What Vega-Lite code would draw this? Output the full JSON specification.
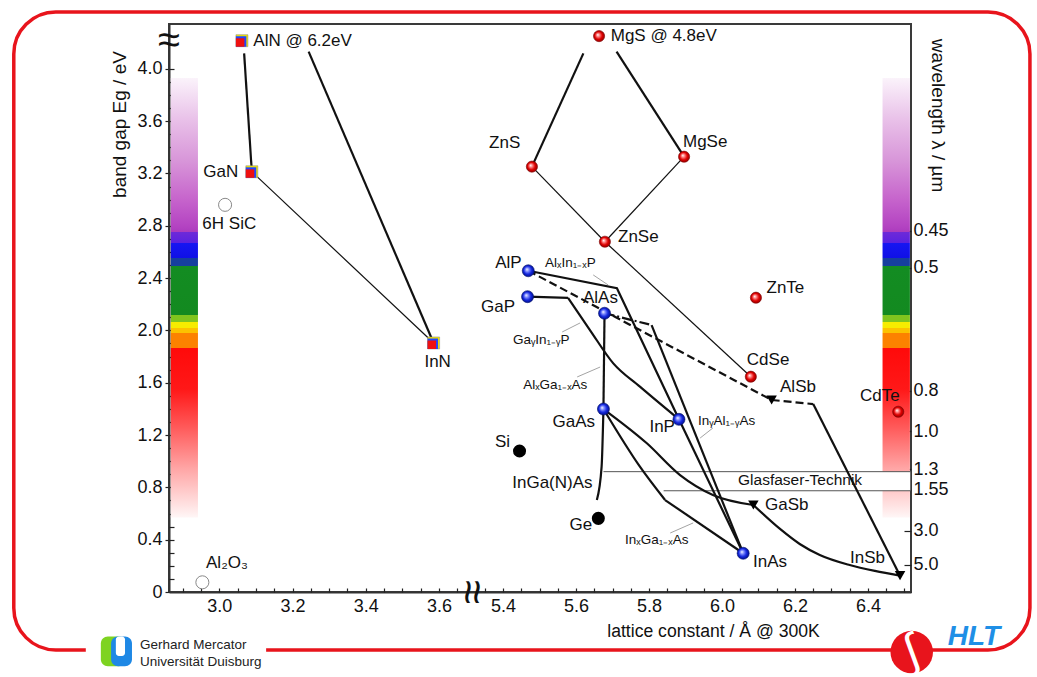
{
"$schema": "https://vega.github.io/schema/vega-lite/v6.json",
"width": 742, "height": 568,
"autosize": {"type": "none"},
"padding": {"left": 169, "top": 24, "right": 126, "bottom": 85},
"background": "white",
"config": {
  "view": {"stroke": "#3a3a3a", "strokeWidth": 2},
  "font": "Liberation Sans",
  "axis": {"grid": false, "labelFont": "Liberation Sans Narrow, Liberation Sans", "labelFontSize": 18, "labelColor": "#111", "titleFont": "Liberation Sans", "titleFontWeight": "normal", "titleColor": "#111", "tickColor": "#222", "domainColor": "#333", "domainWidth": 2, "tickWidth": 1.2, "labelFlush": false, "labelOverlap": false, "labelBound": false},
  "text": {"font": "Liberation Sans", "fontSize": 17, "color": "#111"}
},
"datasets": {
  "red": [{"n":"MgS","x":5.663,"y":4.25},{"n":"ZnS","x":5.479,"y":3.252},{"n":"MgSe","x":5.896,"y":3.328},{"n":"ZnSe","x":5.679,"y":2.678},{"n":"ZnTe","x":6.093,"y":2.25},{"n":"CdSe","x":6.079,"y":1.646},{"n":"CdTe","x":6.483,"y":1.378}],
  "blue": [{"n":"AlP","x":5.469,"y":2.456},{"n":"GaP","x":5.467,"y":2.258},{"n":"AlAs","x":5.678,"y":2.131},{"n":"GaAs","x":5.675,"y":1.399},{"n":"InP","x":5.882,"y":1.32},{"n":"InAs","x":6.058,"y":0.296}],
  "black": [{"n":"Si","x":5.445,"y":1.078},{"n":"Ge","x":5.661,"y":0.563}],
  "open": [{"n":"6H SiC","x":3.016,"y":2.96},{"n":"Al2O3","x":2.954,"y":0.074}],
  "tri": [{"n":"AlSb","x":6.136,"y":1.468},{"n":"GaSb","x":6.086,"y":0.665},{"n":"InSb","x":6.488,"y":0.125}],
  "nit": [{"n":"AlN","x":3.062,"y":4.215},{"n":"GaN","x":3.089,"y":3.213},{"n":"InN","x":3.585,"y":1.904}],
  "lines": [
    {"id":1,"o":1,"s":"thick","x":3.068,"y":4.118},{"id":1,"o":2,"s":"thick","x":3.089,"y":3.213},
    {"id":2,"o":1,"s":"thick","x":3.244,"y":4.131},{"id":2,"o":2,"s":"thick","x":3.585,"y":1.904},
    {"id":3,"o":1,"s":"thin","x":3.089,"y":3.213},{"id":3,"o":2,"s":"thin","x":3.585,"y":1.904},
    {"id":4,"o":1,"s":"thick","x":5.62,"y":4.118},{"id":4,"o":2,"s":"thick","x":5.479,"y":3.252},
    {"id":5,"o":1,"s":"thick","x":5.711,"y":4.131},{"id":5,"o":2,"s":"thick","x":5.896,"y":3.328},
    {"id":6,"o":1,"s":"thin","x":5.479,"y":3.252},{"id":6,"o":2,"s":"thin","x":5.679,"y":2.678},
    {"id":7,"o":1,"s":"thin","x":5.896,"y":3.328},{"id":7,"o":2,"s":"thin","x":5.679,"y":2.678},
    {"id":8,"o":1,"s":"thin","x":5.679,"y":2.678},{"id":8,"o":2,"s":"thin","x":6.079,"y":1.646},
    {"id":9,"o":1,"s":"thick","x":5.469,"y":2.456},{"id":9,"o":2,"s":"thick","x":5.712,"y":2.322},{"id":9,"o":3,"s":"thick","x":5.882,"y":1.32},
    {"id":10,"o":1,"s":"thick","x":5.467,"y":2.258},{"id":10,"o":2,"s":"thick","x":5.578,"y":2.248},
    {"id":30,"o":1,"s":"curve","x":5.578,"y":2.248},{"id":30,"o":2,"s":"curve","x":5.638,"y":2.003},{"id":30,"o":3,"s":"curve","x":5.702,"y":1.748},{"id":30,"o":4,"s":"curve","x":5.775,"y":1.57},{"id":30,"o":5,"s":"curve","x":5.882,"y":1.32},
    {"id":11,"o":1,"s":"thick","x":5.678,"y":2.131},{"id":11,"o":2,"s":"thick","x":5.675,"y":1.399},
    {"id":12,"o":1,"s":"dashdot","x":5.678,"y":2.131},{"id":12,"o":2,"s":"dashdot","x":5.807,"y":2.041},
    {"id":13,"o":1,"s":"thick","x":5.807,"y":2.041},{"id":13,"o":2,"s":"thick","x":6.058,"y":0.296},
    {"id":14,"o":1,"s":"dash","x":5.469,"y":2.456},{"id":14,"o":2,"s":"dash","x":6.136,"y":1.468},
    {"id":15,"o":1,"s":"dash","x":6.136,"y":1.468},{"id":15,"o":2,"s":"dash","x":6.25,"y":1.437},
    {"id":16,"o":1,"s":"thick","x":6.25,"y":1.437},{"id":16,"o":2,"s":"thick","x":6.488,"y":0.125},
    {"id":17,"o":1,"s":"thick","x":5.882,"y":1.32},{"id":17,"o":2,"s":"thick","x":6.058,"y":0.296},
    {"id":18,"o":1,"s":"curve","x":5.675,"y":1.399},{"id":18,"o":2,"s":"curve","x":5.775,"y":0.958},{"id":18,"o":3,"s":"curve","x":5.844,"y":0.703},
    {"id":31,"o":1,"s":"thick","x":5.844,"y":0.703},{"id":31,"o":2,"s":"thick","x":6.058,"y":0.296},
    {"id":19,"o":1,"s":"curve","x":5.675,"y":1.399},{"id":19,"o":2,"s":"curve","x":5.794,"y":1.137},{"id":19,"o":3,"s":"curve","x":5.885,"y":0.894},{"id":19,"o":4,"s":"curve","x":5.975,"y":0.742},{"id":19,"o":5,"s":"curve","x":6.086,"y":0.665},
    {"id":20,"o":1,"s":"curve","x":6.086,"y":0.665},{"id":20,"o":2,"s":"curve","x":6.159,"y":0.482},{"id":20,"o":3,"s":"curve","x":6.213,"y":0.367},{"id":20,"o":4,"s":"curve","x":6.268,"y":0.283},{"id":20,"o":5,"s":"curve","x":6.35,"y":0.206},{"id":20,"o":6,"s":"curve","x":6.419,"y":0.161},{"id":20,"o":7,"s":"curve","x":6.488,"y":0.125},
    {"id":21,"o":1,"s":"curve","x":5.675,"y":1.399},{"id":21,"o":2,"s":"curve","x":5.67,"y":0.958},{"id":21,"o":3,"s":"curve","x":5.657,"y":0.703},
    {"id":22,"o":1,"s":"leader","x":5.647,"y":2.424},{"id":22,"o":2,"s":"leader","x":5.688,"y":2.347},
    {"id":23,"o":1,"s":"leader","x":5.562,"y":1.988},{"id":23,"o":2,"s":"leader","x":5.611,"y":2.057},
    {"id":24,"o":1,"s":"leader","x":5.603,"y":1.644},{"id":24,"o":2,"s":"leader","x":5.666,"y":1.72},
    {"id":25,"o":1,"s":"leader","x":5.94,"y":1.177},{"id":25,"o":2,"s":"leader","x":5.975,"y":1.254},
    {"id":26,"o":1,"s":"leader","x":5.858,"y":0.451},{"id":26,"o":2,"s":"leader","x":5.921,"y":0.528},
    {"id":27,"o":1,"s":"glas","x":5.675,"y":0.92},{"id":27,"o":2,"s":"glas","x":6.518,"y":0.92},
    {"id":28,"o":1,"s":"glas","x":5.84,"y":0.774},{"id":28,"o":2,"s":"glas","x":6.518,"y":0.774}
  ],
  "labL": [
    {"t":"AlN @ 6.2eV","x":3.093,"y":4.215},{"t":"MgS @ 4.8eV","x":5.695,"y":4.251},{"t":"6H SiC","x":2.954,"y":2.813},{"t":"Al₂O₃","x":2.964,"y":0.222},
    {"t":"MgSe","x":5.893,"y":3.443},{"t":"ZnSe","x":5.715,"y":2.716},{"t":"ZnTe","x":6.122,"y":2.322},{"t":"CdSe","x":6.068,"y":1.774},
    {"t":"AlSb","x":6.159,"y":1.57},{"t":"AlAs","x":5.619,"y":2.248},{"t":"InAs","x":6.085,"y":0.232},{"t":"GaSb","x":6.118,"y":0.665},
    {"t":"InSb","x":6.351,"y":0.262},{"t":"CdTe","x":6.378,"y":1.498},{"t":"InGa(N)As","x":5.425,"y":0.831}
  ],
  "labR": [
    {"t":"GaN","x":3.052,"y":3.213},{"t":"ZnS","x":5.447,"y":3.43},{"t":"AlP","x":5.451,"y":2.513},{"t":"GaP","x":5.433,"y":2.179},
    {"t":"GaAs","x":5.652,"y":1.302},{"t":"InP","x":5.871,"y":1.264},{"t":"Si","x":5.419,"y":1.149},{"t":"Ge","x":5.644,"y":0.512}
  ],
  "labC": [{"t":"InN","x":3.596,"y":1.758}],
  "labS": [
    {"t":"AlₓIn₁₋ₓP","x":5.515,"y":2.515},{"t":"GaᵧIn₁₋ᵧP","x":5.427,"y":1.927},{"t":"AlₓGa₁₋ₓAs","x":5.455,"y":1.583},
    {"t":"InᵧAl₁₋ᵧAs","x":5.934,"y":1.31},{"t":"InₓGa₁₋ₓAs","x":5.734,"y":0.398}
  ],
  "glas": [{"t":"Glasfaser-Technik","x":6.044,"y":0.856}],
  "logo": [{"t":"Gerhard Mercator","x":2.784,"y":-0.405},{"t":"Universität Duisburg","x":2.784,"y":-0.533}]
},
"layer": [
  {"layer": [
    {"data": {"values": [{}]},
     "mark": {"type": "rect", "filled": false, "color": "#e8141c", "strokeWidth": 3.5, "cornerRadius": 42},
     "encoding": {
       "x": {"datum": 2.4395, "type": "quantitative",
             "scale": {"domain": [2.863, 3.687, 5.312, 6.518], "range": [0, 302, 302, 742], "nice": false, "zero": false},
             "axis": {"values": [3.0, 3.2, 3.4, 3.6, 5.4, 5.6, 5.8, 6.0, 6.2, 6.4], "format": ".1f", "ticks": false, "labelPadding": 5,
                      "title": "lattice constant / Å @ 300K", "titleFontSize": 17.6, "titleX": 544, "titleY": 44, "titleAlign": "center", "titleBaseline": "alphabetic"}},
       "x2": {"datum": 6.844},
       "y": {"datum": 4.434, "type": "quantitative",
             "scale": {"domain": [0, 4.3425], "nice": false, "zero": false},
             "axis": {"values": [0, 0.4, 0.8, 1.2, 1.6, 2.0, 2.4, 2.8, 3.2, 3.6, 4.0], "labelExpr": "datum.value == 0 ? '0' : format(datum.value, '.1f')", "tickSize": 4, "labelPadding": 3,
                      "title": "band gap  Eg / eV", "titleFontSize": 19, "titleAngle": -90, "titleX": -50, "titleY": 100, "titleAlign": "center", "titleBaseline": "middle"}},
       "y2": {"datum": -0.443}
     }},
    {"data": {"values": [{}]}, "mark": {"type": "rect", "color": "white"},
     "encoding": {"x": {"datum": 2.636, "type": "quantitative"}, "x2": {"datum": 3.128}, "y": {"datum": -0.275, "type": "quantitative"}, "y2": {"datum": -0.635}}},
    {"data": {"values": [{}]}, "mark": {"type": "rect", "color": "#7ed321", "cornerRadius": 7},
     "encoding": {"x": {"datum": 2.677, "type": "quantitative"}, "x2": {"datum": 2.745}, "y": {"datum": -0.34, "type": "quantitative"}, "y2": {"datum": -0.568}}},
    {"data": {"values": [{}]}, "mark": {"type": "rect", "color": "#1e88e5", "cornerRadius": 7},
     "encoding": {"x": {"datum": 2.705, "type": "quantitative"}, "x2": {"datum": 2.762}, "y": {"datum": -0.34, "type": "quantitative"}, "y2": {"datum": -0.568}}},
    {"data": {"values": [{}]}, "mark": {"type": "rect", "color": "white", "cornerRadius": 3},
     "encoding": {"x": {"datum": 2.718, "type": "quantitative"}, "x2": {"datum": 2.743}, "y": {"datum": -0.34, "type": "quantitative"}, "y2": {"datum": -0.49}}},
    {"data": {"name": "logo"}, "mark": {"type": "text", "align": "left", "baseline": "middle", "fontSize": 13.5, "color": "#222"},
     "encoding": {"x": {"field": "x", "type": "quantitative"}, "y": {"field": "y", "type": "quantitative"}, "text": {"field": "t"}}},
    {"data": {"values": [{}]}, "mark": {"type": "circle", "color": "#e8141c", "size": 1810, "opacity": 1},
     "encoding": {"x": {"datum": 6.52, "type": "quantitative"}, "y": {"datum": -0.459, "type": "quantitative"}}},
    {"data": {"values": [{}]}, "mark": {"type": "text", "text": "∫", "align": "center", "baseline": "middle", "fontSize": 46, "color": "white", "angle": -20},
     "encoding": {"x": {"datum": 6.52, "type": "quantitative"}, "y": {"datum": -0.459, "type": "quantitative"}}},
    {"data": {"values": [{}]}, "mark": {"type": "text", "text": "HLT", "align": "left", "baseline": "middle", "fontSize": 28, "fontStyle": "italic", "fontWeight": "bold", "color": "#1f8fe6"},
     "encoding": {"x": {"datum": 6.619, "type": "quantitative"}, "y": {"datum": -0.344, "type": "quantitative"}}},
    {"data": {"values": [{}]},
     "mark": {"type": "rect", "fill": {"gradient": "linear", "x1": 0, "y1": 0, "x2": 0, "y2": 1, "stops": [
        {"offset":0,"color":"#fbf3fb"},{"offset":0.098,"color":"#e8bfe8"},{"offset":0.1875,"color":"#d896d9"},{"offset":0.2768,"color":"#c664cc"},{"offset":0.3363,"color":"#b444c2"},{"offset":0.3497,"color":"#ac3cbe"},
        {"offset":0.3497,"color":"#6e2ad8"},{"offset":0.3756,"color":"#5a22e0"},{"offset":0.3756,"color":"#1616f2"},{"offset":0.4107,"color":"#1010e6"},{"offset":0.4107,"color":"#163f9e"},{"offset":0.4286,"color":"#163f9e"},
        {"offset":0.4286,"color":"#138c22"},{"offset":0.5393,"color":"#138a20"},{"offset":0.5393,"color":"#80c41e"},{"offset":0.5545,"color":"#80c41e"},{"offset":0.5545,"color":"#f6ec00"},{"offset":0.569,"color":"#f6ec00"},
        {"offset":0.569,"color":"#fcc200"},{"offset":0.5804,"color":"#fcc200"},{"offset":0.5804,"color":"#fc8200"},{"offset":0.6143,"color":"#fc8200"},{"offset":0.6143,"color":"#ff0a0a"},{"offset":0.7083,"color":"#ff1818"},
        {"offset":0.7976,"color":"#ff5c5c"},{"offset":0.8869,"color":"#ffa4a4"},{"offset":1,"color":"#fff6f6"}]}},
     "encoding": {"x": {"datum": 2.868, "type": "quantitative"}, "x2": {"datum": 2.942}, "y": {"datum": 3.93, "type": "quantitative"}, "y2": {"datum": 0.57}}},
    {"data": {"values": [{}]},
     "mark": {"type": "rect", "fill": {"gradient": "linear", "x1": 0, "y1": 0, "x2": 0, "y2": 1, "stops": [
        {"offset":0,"color":"#fbf3fb"},{"offset":0.098,"color":"#e8bfe8"},{"offset":0.1875,"color":"#d896d9"},{"offset":0.2768,"color":"#c664cc"},{"offset":0.3363,"color":"#b444c2"},{"offset":0.3497,"color":"#ac3cbe"},
        {"offset":0.3497,"color":"#6e2ad8"},{"offset":0.3756,"color":"#5a22e0"},{"offset":0.3756,"color":"#1616f2"},{"offset":0.4107,"color":"#1010e6"},{"offset":0.4107,"color":"#163f9e"},{"offset":0.4286,"color":"#163f9e"},
        {"offset":0.4286,"color":"#138c22"},{"offset":0.5393,"color":"#138a20"},{"offset":0.5393,"color":"#80c41e"},{"offset":0.5545,"color":"#80c41e"},{"offset":0.5545,"color":"#f6ec00"},{"offset":0.569,"color":"#f6ec00"},
        {"offset":0.569,"color":"#fcc200"},{"offset":0.5804,"color":"#fcc200"},{"offset":0.5804,"color":"#fc8200"},{"offset":0.6143,"color":"#fc8200"},{"offset":0.6143,"color":"#ff0a0a"},{"offset":0.7083,"color":"#ff1818"},
        {"offset":0.7976,"color":"#ff5c5c"},{"offset":0.8869,"color":"#ffa4a4"},{"offset":1,"color":"#fff6f6"}]}},
     "encoding": {"x": {"datum": 6.44, "type": "quantitative"}, "x2": {"datum": 6.515}, "y": {"datum": 3.93, "type": "quantitative"}, "y2": {"datum": 0.57}}},
    {"data": {"values": [{}]}, "mark": {"type": "rect", "color": "white"},
     "encoding": {"x": {"datum": 6.03, "type": "quantitative"}, "x2": {"datum": 6.516}, "y": {"datum": 0.92, "type": "quantitative"}, "y2": {"datum": 0.774}}},
    {"data": {"name": "lines"}, "transform": [{"filter": "datum.s == 'glas'"}],
     "mark": {"type": "line", "color": "#555", "strokeWidth": 1},
     "encoding": {"x": {"field": "x", "type": "quantitative"}, "y": {"field": "y", "type": "quantitative"}, "detail": {"field": "id"}, "order": {"field": "o"}}},
    {"data": {"name": "lines"}, "transform": [{"filter": "datum.s == 'leader'"}],
     "mark": {"type": "line", "color": "#999", "strokeWidth": 0.9},
     "encoding": {"x": {"field": "x", "type": "quantitative"}, "y": {"field": "y", "type": "quantitative"}, "detail": {"field": "id"}, "order": {"field": "o"}}},
    {"data": {"name": "lines"}, "transform": [{"filter": "datum.s == 'thin'"}],
     "mark": {"type": "line", "color": "#111", "strokeWidth": 1.2},
     "encoding": {"x": {"field": "x", "type": "quantitative"}, "y": {"field": "y", "type": "quantitative"}, "detail": {"field": "id"}, "order": {"field": "o"}}},
    {"data": {"name": "lines"}, "transform": [{"filter": "datum.s == 'thick'"}],
     "mark": {"type": "line", "color": "#111", "strokeWidth": 2.2},
     "encoding": {"x": {"field": "x", "type": "quantitative"}, "y": {"field": "y", "type": "quantitative"}, "detail": {"field": "id"}, "order": {"field": "o"}}},
    {"data": {"name": "lines"}, "transform": [{"filter": "datum.s == 'curve'"}],
     "mark": {"type": "line", "color": "#111", "strokeWidth": 2.2, "interpolate": "monotone"},
     "encoding": {"x": {"field": "x", "type": "quantitative"}, "y": {"field": "y", "type": "quantitative"}, "detail": {"field": "id"}, "order": {"field": "o"}}},
    {"data": {"name": "lines"}, "transform": [{"filter": "datum.s == 'dash'"}],
     "mark": {"type": "line", "color": "#111", "strokeWidth": 2.2, "strokeDash": [8, 4]},
     "encoding": {"x": {"field": "x", "type": "quantitative"}, "y": {"field": "y", "type": "quantitative"}, "detail": {"field": "id"}, "order": {"field": "o"}}},
    {"data": {"name": "lines"}, "transform": [{"filter": "datum.s == 'dashdot'"}],
     "mark": {"type": "line", "color": "#111", "strokeWidth": 2.2, "strokeDash": [10, 3, 2, 3]},
     "encoding": {"x": {"field": "x", "type": "quantitative"}, "y": {"field": "y", "type": "quantitative"}, "detail": {"field": "id"}, "order": {"field": "o"}}},
    {"data": {"name": "open"}, "mark": {"type": "point", "shape": "circle", "filled": true, "fill": "white", "stroke": "#888", "strokeWidth": 1, "size": 170, "opacity": 1},
     "encoding": {"x": {"field": "x", "type": "quantitative"}, "y": {"field": "y", "type": "quantitative"}}},
    {"data": {"name": "black"}, "mark": {"type": "circle", "color": "#000", "size": 170, "opacity": 1},
     "encoding": {"x": {"field": "x", "type": "quantitative"}, "y": {"field": "y", "type": "quantitative"}}},
    {"data": {"name": "tri"}, "mark": {"type": "point", "shape": "triangle-down", "filled": true, "color": "#000", "size": 110, "opacity": 1},
     "encoding": {"x": {"field": "x", "type": "quantitative"}, "y": {"field": "y", "type": "quantitative"}}},
    {"data": {"name": "red"}, "mark": {"type": "circle", "size": 125, "opacity": 1, "stroke": "#7a0000", "strokeWidth": 0.6,
        "fill": {"gradient": "radial", "x1": 0.38, "y1": 0.38, "r1": 0, "x2": 0.5, "y2": 0.5, "r2": 0.55, "stops": [{"offset": 0, "color": "#ffffff"}, {"offset": 0.25, "color": "#ff8a8a"}, {"offset": 0.6, "color": "#e00000"}, {"offset": 1, "color": "#8a0000"}]}},
     "encoding": {"x": {"field": "x", "type": "quantitative"}, "y": {"field": "y", "type": "quantitative"}}},
    {"data": {"name": "blue"}, "mark": {"type": "circle", "size": 145, "opacity": 1, "stroke": "#00106a", "strokeWidth": 0.6,
        "fill": {"gradient": "radial", "x1": 0.38, "y1": 0.38, "r1": 0, "x2": 0.5, "y2": 0.5, "r2": 0.55, "stops": [{"offset": 0, "color": "#ffffff"}, {"offset": 0.25, "color": "#8a96ff"}, {"offset": 0.6, "color": "#1428e0"}, {"offset": 1, "color": "#000a80"}]}},
     "encoding": {"x": {"field": "x", "type": "quantitative"}, "y": {"field": "y", "type": "quantitative"}}},
    {"data": {"name": "nit"}, "mark": {"type": "point", "shape": "square", "filled": true, "color": "#f2e400", "stroke": "#888", "strokeWidth": 0.5, "size": 144, "opacity": 1},
     "encoding": {"x": {"field": "x", "type": "quantitative"}, "y": {"field": "y", "type": "quantitative"}}},
    {"data": {"name": "nit"}, "mark": {"type": "point", "shape": "square", "filled": true, "color": "#1e46ff", "size": 110, "opacity": 1, "xOffset": -0.8, "yOffset": 0.8},
     "encoding": {"x": {"field": "x", "type": "quantitative"}, "y": {"field": "y", "type": "quantitative"}}},
    {"data": {"name": "nit"}, "mark": {"type": "point", "shape": "square", "filled": true, "color": "#ee1010", "size": 72, "opacity": 1, "xOffset": -1.8, "yOffset": 1.8},
     "encoding": {"x": {"field": "x", "type": "quantitative"}, "y": {"field": "y", "type": "quantitative"}}},
    {"data": {"name": "labL"}, "mark": {"type": "text", "align": "left", "baseline": "middle"},
     "encoding": {"x": {"field": "x", "type": "quantitative"}, "y": {"field": "y", "type": "quantitative"}, "text": {"field": "t"}}},
    {"data": {"name": "labR"}, "mark": {"type": "text", "align": "right", "baseline": "middle"},
     "encoding": {"x": {"field": "x", "type": "quantitative"}, "y": {"field": "y", "type": "quantitative"}, "text": {"field": "t"}}},
    {"data": {"name": "labC"}, "mark": {"type": "text", "align": "center", "baseline": "middle"},
     "encoding": {"x": {"field": "x", "type": "quantitative"}, "y": {"field": "y", "type": "quantitative"}, "text": {"field": "t"}}},
    {"data": {"name": "labS"}, "mark": {"type": "text", "align": "left", "baseline": "middle", "fontSize": 13.5},
     "encoding": {"x": {"field": "x", "type": "quantitative"}, "y": {"field": "y", "type": "quantitative"}, "text": {"field": "t"}}},
    {"data": {"name": "glas"}, "mark": {"type": "text", "align": "left", "baseline": "middle", "fontSize": 15.5},
     "encoding": {"x": {"field": "x", "type": "quantitative"}, "y": {"field": "y", "type": "quantitative"}, "text": {"field": "t"}}},
    {"data": {"values": [{}]}, "mark": {"type": "text", "text": "≈", "align": "center", "baseline": "middle", "fontSize": 40},
     "encoding": {"x": {"datum": 2.863, "type": "quantitative"}, "y": {"datum": 4.21, "type": "quantitative"}}},
    {"data": {"values": [{}]}, "mark": {"type": "text", "text": "≈", "align": "center", "baseline": "middle", "fontSize": 44, "angle": 90},
     "encoding": {"x": {"datum": 3.687, "type": "quantitative"}, "y": {"datum": 0, "type": "quantitative"}}}
  ]},
  {"data": {"values": [{}]}, "mark": {"type": "point", "opacity": 0},
   "encoding": {
     "x": {"datum": 3.0, "type": "quantitative", "axis": {"orient": "bottom", "values": [2.9,2.95,3.0,3.05,3.1,3.15,3.2,3.25,3.3,3.35,3.4,3.45,3.5,3.55,3.6,3.65,5.35,5.4,5.45,5.5,5.55,5.6,5.65,5.7,5.75,5.8,5.85,5.9,5.95,6.0,6.05,6.1,6.15,6.2,6.25,6.3,6.35,6.4,6.45,6.5], "labels": false, "domain": false, "tickSize": -4, "title": null}},
     "y": {"datum": 1, "type": "quantitative", "axis": {"orient": "left", "values": [0.1,0.2,0.3,0.4,0.5,0.6,0.7,0.8,0.9,1.0,1.1,1.2,1.3,1.4,1.5,1.6,1.7,1.8,1.9,2.0,2.1,2.2,2.3,2.4,2.5,2.6,2.7,2.8,2.9,3.0,3.1,3.2,3.3,3.4,3.5,3.6,3.7,3.8,3.9,4.0], "labels": false, "domain": false, "tickSize": -5, "title": null}}
   }},
  {"data": {"values": [{}]}, "mark": {"type": "point", "opacity": 0},
   "encoding": {
     "y": {"datum": 1, "type": "quantitative", "axis": {"orient": "right", "values": [2.76, 2.48, 1.54, 1.23, 0.94, 0.78, 0.47, 0.21],
        "labelExpr": "datum.value > 2.6 ? '0.45' : datum.value > 2 ? '0.5' : datum.value > 1.4 ? '0.8' : datum.value > 1.1 ? '1.0' : datum.value > 0.9 ? '1.3' : datum.value > 0.6 ? '1.55' : datum.value > 0.3 ? '3.0' : '5.0'",
        "tickSize": -7, "labelPadding": 9, "domain": false,
        "title": "wavelength λ / µm", "titleFontSize": 19, "titleAngle": 90, "titleX": 26, "titleY": 91, "titleAlign": "center", "titleBaseline": "middle"}}
   }}
],
"resolve": {"axis": {"x": "independent", "y": "independent"}}
}
